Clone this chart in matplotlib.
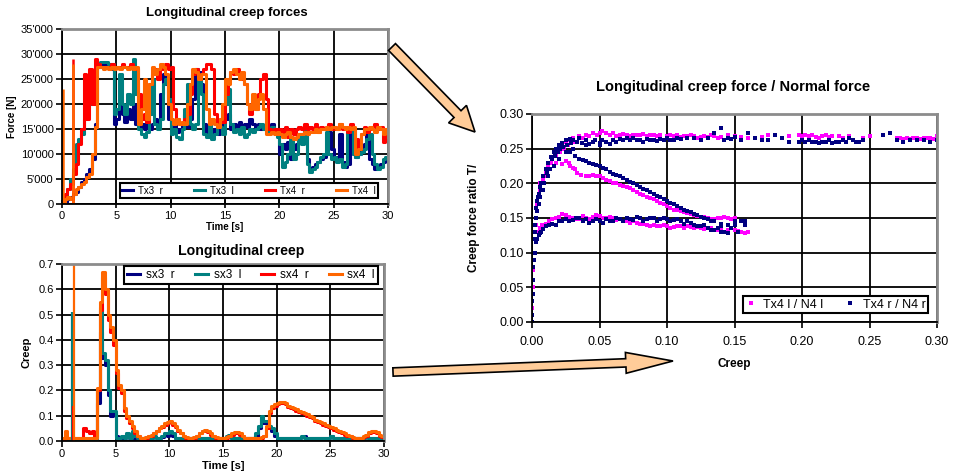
import numpy as np
import matplotlib; matplotlib.use("Agg")
import matplotlib.pyplot as plt
from matplotlib.ticker import FuncFormatter, MultipleLocator
from matplotlib.patches import FancyArrowPatch

plt.rcParams['font.family'] = ['Liberation Sans', 'DejaVu Sans']

# time grid of the recorded signals (s)
t = np.arange(0, 30.001, 0.25)

# longitudinal creep forces, kN
tx3_r = [0, 0.5, 1, 1.5, 2, 2.5, 3.5, 4.5, 5, 6, 7, 9, 16, 27.5, 28, 28,
         28, 28, 27, 16, 17, 21, 18, 16.5, 19, 17, 20, 16, 15.5, 16, 15, 16,
         15, 16, 17, 15.5, 22, 26, 24, 17, 15, 16, 14.5, 15, 16, 18, 15.5, 17,
         21, 27, 26.5, 24, 16, 14.5, 14, 14.5, 15, 14, 15.5, 16, 17, 18, 15, 16,
         15.5, 16.5, 15, 16, 15.5, 17, 16, 15, 16, 15, 15.5, 15, 15.5, 16, 14.5, 14,
         10, 12, 11, 12.5, 9, 11, 12, 13.5, 14, 15.5, 9, 7, 7.5, 8, 8.5, 9,
         9.5, 10, 14.5, 11, 9, 9.5, 14, 8.5, 7.5, 8, 15, 10, 9.5, 10, 11, 12,
         14, 9, 8, 7, 7.5, 8, 8.5, 9, 8.5]
tx3_l = [0, 1, 3, 5, 7, 12, 13, 14, 17, 19, 20, 22, 27, 28, 28.5, 28.5,
         28.5, 28, 28, 18, 19, 26, 20, 18, 22, 20, 29, 22, 15, 14, 13.5, 14.5,
         18, 25, 16, 15, 17, 24, 25, 21, 14, 15, 13.5, 13, 15, 19, 24, 16,
         15, 16, 25, 22, 14, 13.5, 16, 13, 14, 16, 15.5, 14, 20, 23, 16, 14.5,
         15, 14, 15.5, 13.5, 14, 15, 14.5, 15, 15.5, 16, 15, 14.5, 15, 15.5, 15, 13.5,
         12, 7.5, 8.5, 10, 13, 9, 10, 14, 12, 15, 8, 6.5, 7, 7.5, 8.5, 9.5,
         10, 14.5, 10, 9, 9.5, 8.5, 9, 7.5, 8, 14.5, 15, 10, 9.5, 10, 10.5, 11,
         13, 14, 10, 8, 7, 7.5, 9, 9.5, 8.5]
tx4_r = [0, 2, 3, 4, 6, 8, 12, 15, 26, 17, 27, 20, 29, 28, 27.5, 27.5,
         27.5, 27.5, 28, 27.5, 27.5, 27.5, 28, 27.5, 27.5, 28, 27, 27, 22, 17, 18, 16.5,
         24, 26, 27, 25, 27, 27.5, 28, 27, 27.5, 19, 17, 16, 16.5, 17, 18, 22,
         26, 27, 25, 26, 27, 28, 28, 27, 18, 16, 17, 16.5, 22, 25, 26.5, 26,
         27, 26, 25, 24, 20, 18, 21, 19, 22, 25, 26, 21, 15, 14.5, 15, 14,
         15, 14, 15.5, 13.5, 15, 14, 15, 15.5, 15, 16, 15, 15.5, 15, 16, 14.5, 15.5,
         15, 15.5, 16, 15, 15.5, 15, 16, 15, 15.5, 14.5, 16, 15, 13, 11, 14, 15.5,
         14.5, 15, 15.5, 16, 15, 15.5, 12.5, 15, 13]
tx4_l = [0, 1, 1.5, 1, 2, 3, 3.5, 4, 4.5, 5.5, 6, 10, 15.5, 27.5, 27.5, 27,
         27.5, 27, 27.5, 27, 27.5, 27, 27.5, 27.5, 27, 27.5, 27, 27.5, 16, 19, 25, 17,
         24, 27.5, 26, 27, 28, 27.5, 26, 20, 17, 16, 17, 16, 16.5, 16, 20, 24,
         27, 26.5, 25, 26, 26, 19, 16, 17, 16, 15.5, 17, 20, 25, 24, 26.5, 27,
         26, 25, 26.5, 24, 20, 19, 22, 19, 21, 22, 19, 14, 14, 14.5, 14, 14.5,
         14, 13.5, 14, 14.5, 13.5, 13, 13.5, 14, 14, 14.5, 14, 14.5, 14.5, 15, 14.5, 15,
         15, 15.5, 15, 15.5, 15.5, 15, 16, 15.5, 15, 15.5, 15, 15.5, 10, 11, 14, 15,
         15, 15.5, 15, 14.5, 15.5, 15, 14, 15, 13.5]
# single-sample spikes near the start: time (s), peak (kN), series index
force_spike_t = [0.05, 1.0, 1.05]
force_spike_v = [23, 29, 28]
force_spike_series = [3, 2, 3]

# longitudinal creep (-)
sx3_r = [0, 0.005, 0.005, 0.005, 0.005, 0.005, 0.005, 0.005, 0.005, 0.005, 0.005, 0.005, 0.005, 0.15, 0.43, 0.33,
         0.30, 0.18, 0.10, 0.11, 0.02, 0.01, 0.01, 0.01, 0.02, 0.01, 0.03, 0.01, 0.01, 0.01, 0.01, 0.01,
         0.01, 0.01, 0.015, 0.01, 0.01, 0.015, 0.025, 0.02, 0.03, 0.02, 0.01, 0.01, 0.01, 0.01, 0.01, 0.01,
         0.01, 0.01, 0.01, 0.01, 0.01, 0.01, 0.01, 0.01, 0.01, 0.01, 0.01, 0.01, 0.01, 0.015, 0.02, 0.01,
         0.01, 0.01, 0.01, 0.01, 0.01, 0.01, 0.01, 0.01, 0.02, 0.05, 0.09, 0.07, 0.07, 0.05, 0.04, 0.02,
         0.01, 0.01, 0.01, 0.01, 0.01, 0.01, 0.01, 0.01, 0.01, 0.015, 0.02, 0.01, 0.01, 0.01, 0.01, 0.01,
         0.01, 0.01, 0.01, 0.01, 0.02, 0.01, 0.01, 0.01, 0.01, 0.01, 0.01, 0.01, 0.01, 0.01, 0.01, 0.01,
         0.01, 0.015, 0.01, 0.01, 0.01, 0.01, 0.01, 0.01, 0.01]
sx3_l = [0.005, 0.005, 0.005, 0.005, 0.005, 0.005, 0.005, 0.005, 0.005, 0.005, 0.005, 0.005, 0.005, 0.2, 0.53, 0.35,
         0.32, 0.2, 0.12, 0.12, 0.01, 0.01, 0.02, 0.01, 0.03, 0.01, 0.04, 0.02, 0.01, 0.01, 0.01, 0.01,
         0.01, 0.01, 0.02, 0.01, 0.01, 0.02, 0.03, 0.03, 0.04, 0.03, 0.01, 0.01, 0.01, 0.01, 0.01, 0.01,
         0.01, 0.01, 0.01, 0.01, 0.01, 0.01, 0.01, 0.01, 0.01, 0.01, 0.01, 0.01, 0.01, 0.02, 0.025, 0.01,
         0.01, 0.01, 0.01, 0.01, 0.01, 0.01, 0.01, 0.01, 0.03, 0.06, 0.1, 0.08, 0.08, 0.06, 0.05, 0.03,
         0.01, 0.01, 0.01, 0.01, 0.01, 0.01, 0.01, 0.01, 0.01, 0.02, 0.01, 0.01, 0.01, 0.01, 0.01, 0.01,
         0.01, 0.01, 0.01, 0.01, 0.02, 0.01, 0.01, 0.01, 0.01, 0.01, 0.01, 0.01, 0.01, 0.01, 0.01, 0.01,
         0.01, 0.02, 0.01, 0.01, 0.01, 0.01, 0.01, 0.01, 0.01]
sx4_r = [0.0, 0.015, 0.01, 0.01, 0.01, 0.01, 0.01, 0.01, 0.05, 0.04, 0.03, 0.04, 0.02, 0.2, 0.52, 0.65,
         0.58, 0.48, 0.43, 0.38, 0.27, 0.21, 0.19, 0.12, 0.09, 0.07, 0.05, 0.03, 0.02, 0.01, 0.01, 0.01,
         0.02, 0.02, 0.03, 0.04, 0.05, 0.055, 0.065, 0.07, 0.075, 0.065, 0.055, 0.04, 0.03, 0.02, 0.01, 0.01,
         0.01, 0.01, 0.02, 0.03, 0.04, 0.04, 0.035, 0.025, 0.02, 0.01, 0.01, 0.01, 0.01, 0.01, 0.02, 0.025,
         0.03, 0.03, 0.025, 0.02, 0.01, 0.01, 0.01, 0.01, 0.01, 0.01, 0.01, 0.02, 0.05, 0.11, 0.13, 0.14,
         0.145, 0.15, 0.15, 0.145, 0.135, 0.13, 0.125, 0.12, 0.115, 0.11, 0.105, 0.1, 0.095, 0.09, 0.08, 0.075,
         0.07, 0.065, 0.06, 0.055, 0.05, 0.045, 0.04, 0.035, 0.03, 0.025, 0.02, 0.02, 0.01, 0.01, 0.01, 0.01,
         0.015, 0.02, 0.03, 0.035, 0.035, 0.03, 0.02, 0.015, 0.01]
sx4_l = [0.01, 0.04, 0.01, 0.01, 0.01, 0.01, 0.01, 0.01, 0.01, 0.01, 0.01, 0.01, 0.01, 0.21, 0.55, 0.67,
         0.60, 0.50, 0.45, 0.40, 0.28, 0.22, 0.20, 0.13, 0.10, 0.08, 0.06, 0.04, 0.02, 0.01, 0.01, 0.015,
         0.02, 0.025, 0.03, 0.04, 0.05, 0.06, 0.07, 0.075, 0.08, 0.07, 0.06, 0.045, 0.03, 0.02, 0.015, 0.01,
         0.01, 0.015, 0.02, 0.03, 0.04, 0.045, 0.04, 0.03, 0.02, 0.015, 0.01, 0.01, 0.01, 0.015, 0.02, 0.03,
         0.035, 0.035, 0.03, 0.02, 0.01, 0.01, 0.01, 0.01, 0.01, 0.01, 0.015, 0.02, 0.06, 0.12, 0.14, 0.145,
         0.15, 0.155, 0.155, 0.15, 0.14, 0.135, 0.13, 0.125, 0.12, 0.115, 0.11, 0.105, 0.10, 0.095, 0.085, 0.08,
         0.075, 0.07, 0.065, 0.06, 0.055, 0.05, 0.045, 0.04, 0.035, 0.03, 0.025, 0.02, 0.015, 0.01, 0.01, 0.01,
         0.02, 0.025, 0.035, 0.04, 0.04, 0.035, 0.025, 0.02, 0.015]
creep_spike_t = [0.95, 1.05, 1.1]
creep_spike_v = [0.51, 0.14, 0.82]
creep_spike_series = [1, 2, 3]

# creep force ratio T/N against creep, (creep, ratio) pairs per branch
# left wheel, Tx4 l / N4 l
l_rise = [(0.000, 0.00), (0.000, 0.02), (0.001, 0.05), (0.001, 0.075), (0.002, 0.10), (0.002, 0.12),
          (0.003, 0.14), (0.003, 0.15), (0.004, 0.16), (0.004, 0.17), (0.005, 0.18), (0.006, 0.19),
          (0.006, 0.20), (0.008, 0.205), (0.009, 0.21), (0.010, 0.215), (0.011, 0.22), (0.012, 0.225),
          (0.014, 0.23), (0.015, 0.235), (0.017, 0.245), (0.018, 0.24), (0.020, 0.25), (0.021, 0.245),
          (0.022, 0.255), (0.024, 0.25), (0.025, 0.26), (0.027, 0.255), (0.028, 0.262), (0.030, 0.265),
          (0.032, 0.26), (0.035, 0.268), (0.038, 0.265), (0.040, 0.27), (0.042, 0.268), (0.045, 0.272),
          (0.048, 0.27), (0.050, 0.272), (0.052, 0.275), (0.055, 0.273), (0.058, 0.27), (0.060, 0.272)]
l_top = [(0.0625, 0.268), (0.065, 0.27), (0.0675, 0.271), (0.070, 0.27), (0.0725, 0.268), (0.075, 0.269),
         (0.0775, 0.27), (0.080, 0.27), (0.0825, 0.271), (0.085, 0.268), (0.0875, 0.27), (0.090, 0.269),
         (0.0925, 0.268), (0.095, 0.27), (0.100, 0.268), (0.1025, 0.27), (0.105, 0.268), (0.1075, 0.269),
         (0.110, 0.267), (0.1125, 0.268), (0.115, 0.268), (0.1175, 0.27), (0.120, 0.268), (0.1225, 0.266),
         (0.125, 0.267), (0.1275, 0.268), (0.130, 0.267), (0.1325, 0.269), (0.135, 0.268), (0.1375, 0.266),
         (0.140, 0.267), (0.145, 0.269), (0.150, 0.268), (0.155, 0.267), (0.160, 0.266), (0.170, 0.267),
         (0.175, 0.269), (0.185, 0.266), (0.190, 0.268), (0.1975, 0.269), (0.200, 0.268), (0.2025, 0.269),
         (0.205, 0.268), (0.2075, 0.269), (0.210, 0.267), (0.2125, 0.266), (0.215, 0.268), (0.2175, 0.269),
         (0.220, 0.267), (0.2225, 0.268), (0.2275, 0.268), (0.230, 0.266), (0.235, 0.268), (0.245, 0.266),
         (0.250, 0.268), (0.270, 0.265), (0.2725, 0.266), (0.275, 0.264), (0.2775, 0.265), (0.280, 0.264),
         (0.2825, 0.266), (0.285, 0.265), (0.2875, 0.264), (0.290, 0.265), (0.2925, 0.266), (0.295, 0.266),
         (0.2975, 0.264), (0.300, 0.268)]
l_fall = [(0.018, 0.23), (0.022, 0.228), (0.025, 0.232), (0.0275, 0.23), (0.028, 0.225), (0.030, 0.222),
          (0.0315, 0.22), (0.033, 0.215), (0.036, 0.212), (0.040, 0.21), (0.0425, 0.211), (0.045, 0.212),
          (0.0475, 0.21), (0.050, 0.21), (0.0525, 0.207), (0.055, 0.205), (0.0575, 0.203), (0.060, 0.20),
          (0.0625, 0.20), (0.065, 0.198), (0.0675, 0.196), (0.070, 0.195), (0.0725, 0.193), (0.075, 0.19),
          (0.0775, 0.188), (0.080, 0.185), (0.0825, 0.183), (0.085, 0.18), (0.0875, 0.179), (0.090, 0.178),
          (0.0925, 0.175), (0.095, 0.172), (0.0975, 0.17), (0.100, 0.168), (0.1025, 0.165), (0.105, 0.162),
          (0.1075, 0.161), (0.110, 0.16), (0.1125, 0.158), (0.115, 0.157), (0.1175, 0.156), (0.120, 0.155),
          (0.1225, 0.153), (0.125, 0.152), (0.1275, 0.151), (0.130, 0.15), (0.1325, 0.149), (0.135, 0.148),
          (0.1375, 0.15), (0.140, 0.15), (0.1425, 0.152), (0.145, 0.15), (0.1475, 0.148), (0.150, 0.15)]
l_low = [(0.004, 0.13), (0.006, 0.135), (0.0075, 0.14), (0.010, 0.142), (0.0125, 0.145), (0.015, 0.148),
         (0.0175, 0.15), (0.020, 0.152), (0.0225, 0.156), (0.025, 0.155), (0.0275, 0.152), (0.030, 0.15),
         (0.0325, 0.149), (0.035, 0.148), (0.0375, 0.153), (0.040, 0.15), (0.0425, 0.149), (0.045, 0.152),
         (0.0475, 0.155), (0.050, 0.153), (0.0525, 0.15), (0.055, 0.15), (0.0575, 0.152), (0.060, 0.15),
         (0.0625, 0.147), (0.065, 0.148), (0.0675, 0.146), (0.070, 0.145), (0.0725, 0.143), (0.075, 0.145),
         (0.0775, 0.143), (0.080, 0.142), (0.0825, 0.141), (0.085, 0.14), (0.0875, 0.138), (0.090, 0.14),
         (0.0925, 0.139), (0.095, 0.138), (0.0975, 0.14), (0.100, 0.138), (0.1025, 0.136), (0.105, 0.137),
         (0.1075, 0.139), (0.110, 0.138), (0.1125, 0.136), (0.115, 0.138), (0.1175, 0.137), (0.120, 0.136),
         (0.1225, 0.137), (0.125, 0.135), (0.1275, 0.134), (0.130, 0.135), (0.1325, 0.136), (0.1375, 0.133),
         (0.140, 0.134), (0.145, 0.133), (0.150, 0.132), (0.1525, 0.131), (0.155, 0.13), (0.1575, 0.128),
         (0.160, 0.13)]

# right wheel, Tx4 r / N4 r
r_rise = [(0.000, 0.00), (0.000, 0.01), (0.000, 0.03), (0.001, 0.04), (0.001, 0.06), (0.001, 0.08),
          (0.0015, 0.09), (0.002, 0.10), (0.002, 0.12), (0.0025, 0.13), (0.002, 0.14), (0.003, 0.15),
          (0.0035, 0.16), (0.003, 0.165), (0.004, 0.175), (0.0045, 0.18), (0.005, 0.185), (0.005, 0.17),
          (0.006, 0.195), (0.006, 0.18), (0.007, 0.20), (0.007, 0.19), (0.008, 0.21), (0.008, 0.19),
          (0.009, 0.20), (0.010, 0.22), (0.011, 0.215), (0.012, 0.23), (0.012, 0.21), (0.013, 0.22),
          (0.014, 0.238), (0.015, 0.235), (0.016, 0.245), (0.016, 0.225), (0.017, 0.24), (0.018, 0.25),
          (0.019, 0.245), (0.020, 0.255), (0.020, 0.235), (0.021, 0.25), (0.022, 0.258), (0.023, 0.252),
          (0.025, 0.262), (0.025, 0.245), (0.026, 0.255), (0.028, 0.264), (0.029, 0.258), (0.030, 0.262),
          (0.030, 0.25), (0.033, 0.26), (0.035, 0.266), (0.037, 0.258), (0.040, 0.262), (0.040, 0.255),
          (0.042, 0.257), (0.045, 0.26), (0.047, 0.262), (0.050, 0.258), (0.050, 0.255), (0.052, 0.262),
          (0.055, 0.26), (0.058, 0.257)]
r_top = [(0.060, 0.262), (0.0625, 0.26), (0.065, 0.264), (0.0675, 0.262), (0.070, 0.265), (0.0725, 0.263),
         (0.075, 0.266), (0.0775, 0.262), (0.080, 0.263), (0.0825, 0.26), (0.085, 0.264), (0.0875, 0.262),
         (0.090, 0.263), (0.0925, 0.261), (0.095, 0.264), (0.0975, 0.262), (0.100, 0.265), (0.1025, 0.262),
         (0.105, 0.263), (0.1075, 0.265), (0.110, 0.264), (0.115, 0.265), (0.120, 0.265), (0.125, 0.263),
         (0.130, 0.265), (0.135, 0.272), (0.140, 0.28), (0.1425, 0.263), (0.145, 0.265), (0.1475, 0.264),
         (0.150, 0.267), (0.155, 0.262), (0.160, 0.272), (0.165, 0.265), (0.170, 0.262), (0.175, 0.263),
         (0.180, 0.27), (0.185, 0.265), (0.190, 0.26), (0.1975, 0.26), (0.200, 0.262), (0.2025, 0.259),
         (0.205, 0.262), (0.2075, 0.259), (0.210, 0.26), (0.2125, 0.258), (0.215, 0.26), (0.2175, 0.259),
         (0.220, 0.262), (0.2225, 0.258), (0.225, 0.26), (0.2275, 0.259), (0.230, 0.262), (0.2325, 0.26),
         (0.235, 0.265), (0.2375, 0.262), (0.240, 0.26), (0.2425, 0.26), (0.245, 0.262), (0.260, 0.27),
         (0.265, 0.272), (0.270, 0.262), (0.275, 0.26), (0.280, 0.262), (0.285, 0.263), (0.290, 0.262),
         (0.295, 0.26), (0.300, 0.262)]
r_fall = [(0.028, 0.245), (0.032, 0.24), (0.035, 0.235), (0.0375, 0.234), (0.040, 0.232), (0.0425, 0.23),
          (0.045, 0.228), (0.0475, 0.226), (0.050, 0.225), (0.0525, 0.222), (0.055, 0.22), (0.0575, 0.217),
          (0.060, 0.214), (0.0625, 0.212), (0.065, 0.21), (0.0675, 0.207), (0.070, 0.205), (0.0725, 0.202),
          (0.075, 0.20), (0.0775, 0.197), (0.080, 0.195), (0.0825, 0.192), (0.085, 0.19), (0.0875, 0.187),
          (0.090, 0.185), (0.0925, 0.182), (0.095, 0.18), (0.0975, 0.177), (0.100, 0.175), (0.1025, 0.172),
          (0.105, 0.17), (0.1075, 0.167), (0.110, 0.165), (0.1125, 0.162), (0.115, 0.16), (0.1175, 0.158),
          (0.120, 0.156), (0.1225, 0.154), (0.125, 0.152), (0.1275, 0.15), (0.130, 0.148), (0.1325, 0.146),
          (0.135, 0.145), (0.140, 0.142)]
r_low = [(0.003, 0.115), (0.004, 0.12), (0.005, 0.125), (0.006, 0.128), (0.007, 0.13), (0.0085, 0.134),
         (0.010, 0.138), (0.0125, 0.14), (0.015, 0.142), (0.0175, 0.14), (0.020, 0.145), (0.0225, 0.146),
         (0.025, 0.148), (0.0275, 0.145), (0.030, 0.147), (0.0325, 0.15), (0.035, 0.15), (0.0375, 0.146),
         (0.040, 0.148), (0.0425, 0.143), (0.045, 0.145), (0.0475, 0.148), (0.050, 0.146), (0.0525, 0.143),
         (0.055, 0.148), (0.0575, 0.146), (0.060, 0.145), (0.0625, 0.15), (0.065, 0.148), (0.0675, 0.146),
         (0.070, 0.15), (0.0725, 0.148), (0.075, 0.147), (0.0775, 0.152), (0.080, 0.15), (0.0825, 0.146),
         (0.085, 0.148), (0.0875, 0.15), (0.090, 0.15), (0.0925, 0.146), (0.095, 0.148), (0.0975, 0.15),
         (0.100, 0.148), (0.1025, 0.145), (0.105, 0.147), (0.1075, 0.149), (0.110, 0.145), (0.1125, 0.142),
         (0.115, 0.145), (0.1175, 0.143), (0.120, 0.14), (0.1225, 0.138), (0.125, 0.138), (0.1275, 0.14),
         (0.130, 0.135), (0.1325, 0.133), (0.135, 0.132), (0.1375, 0.135), (0.140, 0.13), (0.1425, 0.13),
         (0.145, 0.128), (0.1475, 0.135), (0.150, 0.14), (0.1525, 0.13), (0.155, 0.145), (0.1575, 0.146),
         (0.158, 0.14), (0.145, 0.14), (0.140, 0.138), (0.150, 0.145)]

NAVY = "#000080"; TEAL = "#008080"; RED = "#FF0000"; ORANGE = "#FF6600"; MAGENTA = "#FF00FF"
GREYSPINE = "#8c8c8c"
SERIES_COLORS = [NAVY, TEAL, RED, ORANGE]

W, H = 955, 474
fig = plt.figure(figsize=(W / 100, H / 100), dpi=100)

def box(l, r, top, bot):
    return [l / W, 1 - bot / H, (r - l) / W, (bot - top) / H]

def excel_frame(ax, fs):
    ax.set_axisbelow(True)
    ax.grid(True, color="black", lw=1.3)
    for s in ("left", "bottom"):
        ax.spines[s].set_color("black"); ax.spines[s].set_linewidth(1.3)
    for s in ("top", "right"):
        ax.spines[s].set_color(GREYSPINE); ax.spines[s].set_linewidth(2.0)
    ax.tick_params(labelsize=fs, width=1.2, length=4, direction="out", pad=2)

def legend_box(ax, anchor, ncol, fs, hl):
    lg = ax.legend(loc="lower left", bbox_to_anchor=anchor, mode="expand", ncol=ncol, borderaxespad=0,
                   fontsize=fs, handlelength=hl, handletextpad=0.5, fancybox=False, framealpha=1,
                   edgecolor="black", borderpad=0.25, columnspacing=1)
    lg.get_frame().set_linewidth(1.5)

# --- top left: creep forces
ax1 = fig.add_axes(box(62, 388, 29, 204))
for y, c, lab in zip([tx3_r, tx3_l, tx4_r, tx4_l], SERIES_COLORS, ["Tx3  r", "Tx3  l", "Tx4  r", "Tx4  l"]):
    ax1.plot(t, np.asarray(y) * 1000, color=c, lw=2.2, drawstyle="steps-post", label=lab)
ax1.vlines(force_spike_t, 0, np.asarray(force_spike_v) * 1000,
           colors=[SERIES_COLORS[i] for i in force_spike_series], lw=1.8, zorder=2)
ax1.set_xlim(0, 30); ax1.set_ylim(0, 35000)
ax1.xaxis.set_major_locator(MultipleLocator(5)); ax1.yaxis.set_major_locator(MultipleLocator(5000))
ax1.yaxis.set_major_formatter(FuncFormatter(lambda v, p: f"{v:,.0f}".replace(",", "'")))
excel_frame(ax1, 8)
ax1.tick_params(axis="x", direction="inout", length=6)
ax1.set_xlabel("Time [s]", fontsize=7, fontweight="bold", labelpad=1)
ax1.set_ylabel("Force [N]", fontsize=7, fontweight="bold", labelpad=3)
legend_box(ax1, (0.178, 0.034, 0.791, 0.091), 4, 7, 1.1)
fig.text(227 / W, 1 - 13 / H, "Longitudinal creep forces", ha="center", va="center", fontsize=9.5, fontweight="bold")

# --- bottom left: creep
ax2 = fig.add_axes(box(62, 384, 264, 441))
for y, c, lab in zip([sx3_r, sx3_l, sx4_r, sx4_l], SERIES_COLORS, ["sx3  r", "sx3  l", "sx4  r", "sx4  l"]):
    ax2.plot(t, y, color=c, lw=2.2, drawstyle="steps-post", label=lab)
ax2.vlines(creep_spike_t, 0, creep_spike_v,
           colors=[SERIES_COLORS[i] for i in creep_spike_series], lw=1.6, zorder=2)
ax2.set_xlim(0, 30); ax2.set_ylim(0, 0.7)
ax2.xaxis.set_major_locator(MultipleLocator(5)); ax2.yaxis.set_major_locator(MultipleLocator(0.1))
ax2.yaxis.set_major_formatter(FuncFormatter(lambda v, p: f"{v:.1f}"))
excel_frame(ax2, 8)
ax2.set_xlabel("Time [s]", fontsize=8, fontweight="bold", labelpad=1)
ax2.set_ylabel("Creep", fontsize=8, fontweight="bold", labelpad=5)
legend_box(ax2, (0.193, 0.887, 0.788, 0.102), 4, 8.5, 1.1)
fig.text(241 / W, 1 - 251 / H, "Longitudinal creep", ha="center", va="center", fontsize=10.2, fontweight="bold")

# --- right: ratio vs creep
ax3 = fig.add_axes(box(532, 937, 114, 322))
lx, ly = np.array(l_rise + l_top + l_fall + l_low).T
rx, ry = np.array(r_rise + r_top + r_fall + r_low).T
ax3.plot(lx, ly, "s", ms=3.3, mew=0, color=MAGENTA, label="Tx4 l / N4 l")
ax3.plot(rx, ry, "s", ms=3.3, mew=0, color=NAVY, label="Tx4 r / N4 r")
ax3.set_xlim(0, 0.3); ax3.set_ylim(0, 0.3)
ax3.xaxis.set_major_locator(MultipleLocator(0.05)); ax3.yaxis.set_major_locator(MultipleLocator(0.05))
fmt2 = FuncFormatter(lambda v, p: f"{v:.2f}")
ax3.xaxis.set_major_formatter(fmt2); ax3.yaxis.set_major_formatter(fmt2)
excel_frame(ax3, 9)
ax3.tick_params(axis="x", pad=6)
ax3.set_xlabel("Creep", fontsize=8.5, fontweight="bold", labelpad=7)
ax3.set_ylabel("Creep force ratio T/", fontsize=8.5, fontweight="bold", labelpad=14)
lg = ax3.legend(loc="lower left", bbox_to_anchor=(0.521, 0.043, 0.457, 0.092), mode="expand", ncol=2,
                borderaxespad=0, fontsize=9, handlelength=0.8, handletextpad=0.6, fancybox=False,
                framealpha=1, edgecolor="black", borderpad=0.2, columnspacing=1.2)
lg.get_frame().set_linewidth(1.5)
fig.text(733 / W, 1 - 87 / H, "Longitudinal creep force / Normal force", ha="center", va="center",
         fontsize=10.5, fontweight="bold")

# --- block arrows between the panels
for (x0, y0), (x1, y1), style in [((392, 47), (475, 132), "simple,head_length=18,head_width=18,tail_width=7"),
                                  ((393, 372), (673, 361), "simple,head_length=34,head_width=15,tail_width=6")]:
    fig.patches.append(FancyArrowPatch((x0 / W, 1 - y0 / H), (x1 / W, 1 - y1 / H), transform=fig.transFigure,
                                       arrowstyle=style, mutation_scale=1, shrinkA=0, shrinkB=0,
                                       fc="#FFCC99", ec="black", lw=1.2, joinstyle="miter"))

fig.savefig("out.png", dpi=100)
